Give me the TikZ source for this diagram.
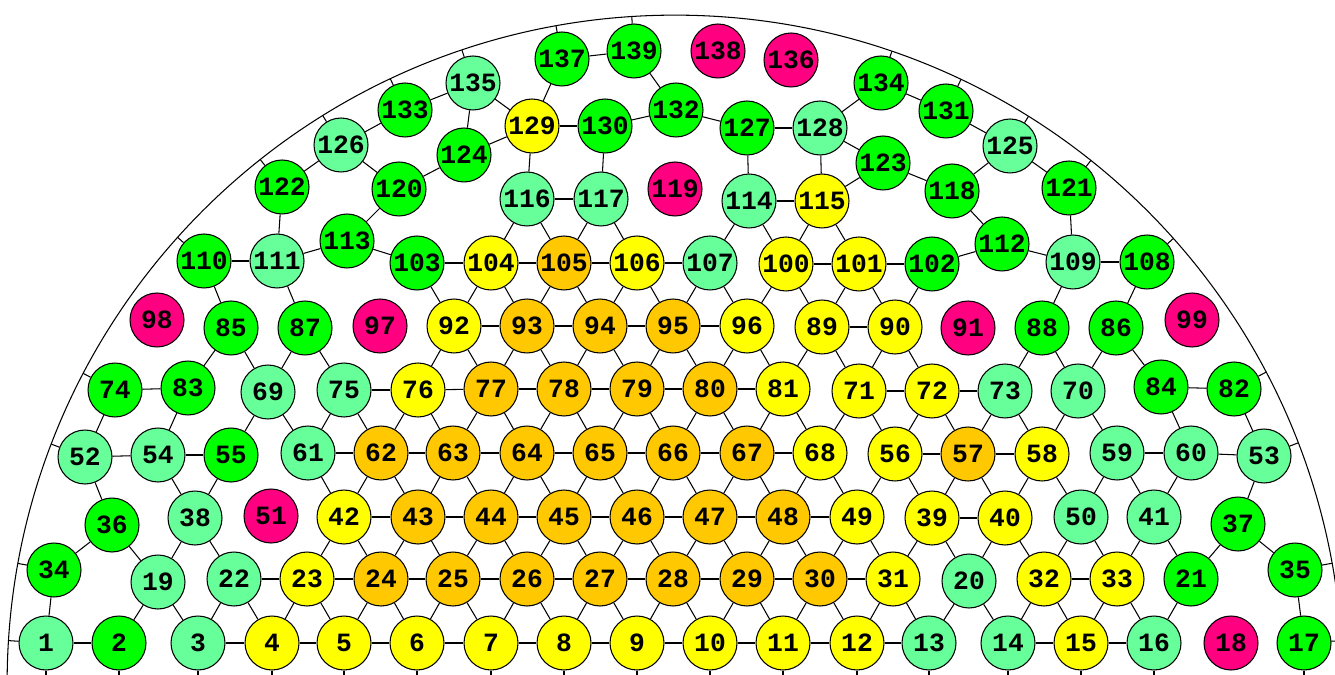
\documentclass[tikz,border=0pt]{standalone}
\usepackage{fontspec}
\newfontfamily\cellfont{Liberation Mono}
\usetikzlibrary{calc}
\definecolor{mintc}{RGB}{102,255,153}
\definecolor{greenc}{RGB}{0,255,0}
\definecolor{pinkc}{RGB}{255,0,128}
\definecolor{yellowc}{RGB}{255,255,0}
\definecolor{orangec}{RGB}{255,200,0}
\tikzset{
  every cell/.style={circle,draw,minimum size=1.08cm,inner sep=0pt,
    font=\cellfont\bfseries\fontsize{15}{15}\selectfont},
  mintcell/.style={every cell,fill=mintc},
  greencell/.style={every cell,fill=greenc},
  pinkcell/.style={every cell,fill=pinkc},
  yellowcell/.style={every cell,fill=yellowc},
  orangecell/.style={every cell,fill=orangec},
}

\begin{document}
\begin{tikzpicture}[x=0.02cm,y=-0.02cm,line width=0.6pt]
  \clip (0,0) rectangle (1335,675);
  \coordinate (ctr) at (675,683);
  \draw (ctr) circle[radius=13.36cm];
  % bottom row
  \node[mintcell]   (n1)   at (46,643)   {1};
  \node[greencell]  (n2)   at (119,643)  {2};
  \node[mintcell]   (n3)   at (198,643)  {3};
  \node[yellowcell] (n4)   at (272,643)  {4};
  \node[yellowcell] (n5)   at (344,643)  {5};
  \node[yellowcell] (n6)   at (417,643)  {6};
  \node[yellowcell] (n7)   at (491,643)  {7};
  \node[yellowcell] (n8)   at (564,643)  {8};
  \node[yellowcell] (n9)   at (637,643)  {9};
  \node[yellowcell] (n10)  at (710,643)  {10};
  \node[yellowcell] (n11)  at (783,643)  {11};
  \node[yellowcell] (n12)  at (857,643)  {12};
  \node[mintcell]   (n13)  at (929,643)  {13};
  \node[mintcell]   (n14)  at (1008,643) {14};
  \node[yellowcell] (n15)  at (1081,643) {15};
  \node[mintcell]   (n16)  at (1154,643) {16};
  \node[greencell]  (n17)  at (1304,643) {17};
  \node[pinkcell]   (n18)  at (1231,643) {18};
  \node[mintcell]   (n19)  at (158,582)  {19};
  \node[mintcell]   (n20)  at (969,581)  {20};
  \node[greencell]  (n21)  at (1191,579) {21};
  \node[mintcell]   (n22)  at (234,579)  {22};
  \node[yellowcell] (n23)  at (307,579)  {23};
  \node[orangecell] (n24)  at (381,579)  {24};
  \node[orangecell] (n25)  at (453,579)  {25};
  \node[orangecell] (n26)  at (527,579)  {26};
  \node[orangecell] (n27)  at (600,579)  {27};
  \node[orangecell] (n28)  at (673,579)  {28};
  \node[orangecell] (n29)  at (747,579)  {29};
  \node[orangecell] (n30)  at (820,579)  {30};
  \node[yellowcell] (n31)  at (893,579)  {31};
  \node[yellowcell] (n32)  at (1044,579) {32};
  \node[yellowcell] (n33)  at (1117,579) {33};
  \node[greencell]  (n34)  at (54,570)   {34};
  \node[greencell]  (n35)  at (1295,570) {35};
  \node[greencell]  (n36)  at (112,525)  {36};
  \node[greencell]  (n37)  at (1238,524) {37};
  \node[mintcell]   (n38)  at (195,518)  {38};
  \node[yellowcell] (n39)  at (932,518)  {39};
  \node[yellowcell] (n40)  at (1005,518) {40};
  \node[mintcell]   (n41)  at (1154,517) {41};
  \node[yellowcell] (n42)  at (344,517)  {42};
  \node[orangecell] (n43)  at (418,517)  {43};
  \node[orangecell] (n44)  at (491,517)  {44};
  \node[orangecell] (n45)  at (564,517)  {45};
  \node[orangecell] (n46)  at (637,517)  {46};
  \node[orangecell] (n47)  at (710,517)  {47};
  \node[orangecell] (n48)  at (783,517)  {48};
  \node[yellowcell] (n49)  at (857,517)  {49};
  \node[mintcell]   (n50)  at (1081,517) {50};
  \node[pinkcell]   (n51)  at (271,516)  {51};
  \node[mintcell]   (n52)  at (85,457)   {52};
  \node[mintcell]   (n53)  at (1264,456) {53};
  \node[mintcell]   (n54)  at (158,455)  {54};
  \node[greencell]  (n55)  at (231,455)  {55};
  \node[yellowcell] (n56)  at (895,454)  {56};
  \node[orangecell] (n57)  at (968,454)  {57};
  \node[yellowcell] (n58)  at (1042,454) {58};
  \node[mintcell]   (n59)  at (1117,453) {59};
  \node[mintcell]   (n60)  at (1191,453) {60};
  \node[mintcell]   (n61)  at (308,453)  {61};
  \node[orangecell] (n62)  at (381,453)  {62};
  \node[orangecell] (n63)  at (453,453)  {63};
  \node[orangecell] (n64)  at (527,453)  {64};
  \node[orangecell] (n65)  at (600,453)  {65};
  \node[orangecell] (n66)  at (673,453)  {66};
  \node[orangecell] (n67)  at (747,453)  {67};
  \node[yellowcell] (n68)  at (820,453)  {68};
  \node[mintcell]   (n69)  at (268,392)  {69};
  \node[mintcell]   (n70)  at (1078,391) {70};
  \node[yellowcell] (n71)  at (859,391)  {71};
  \node[yellowcell] (n72)  at (932,391)  {72};
  \node[mintcell]   (n73)  at (1005,391) {73};
  \node[greencell]  (n74)  at (115,390)  {74};
  \node[mintcell]   (n75)  at (344,390)  {75};
  \node[yellowcell] (n76)  at (418,390)  {76};
  \node[orangecell] (n77)  at (491,389)  {77};
  \node[orangecell] (n78)  at (564,389)  {78};
  \node[orangecell] (n79)  at (637,389)  {79};
  \node[orangecell] (n80)  at (710,389)  {80};
  \node[yellowcell] (n81)  at (783,389)  {81};
  \node[greencell]  (n82)  at (1234,389) {82};
  \node[greencell]  (n83)  at (188,388)  {83};
  \node[greencell]  (n84)  at (1161,387) {84};
  \node[greencell]  (n85)  at (231,328)  {85};
  \node[greencell]  (n86)  at (1116,328) {86};
  \node[greencell]  (n87)  at (305,328)  {87};
  \node[greencell]  (n88)  at (1042,328) {88};
  \node[yellowcell] (n89)  at (822,327)  {89};
  \node[yellowcell] (n90)  at (895,327)  {90};
  \node[pinkcell]   (n91)  at (968,328)  {91};
  \node[yellowcell] (n92)  at (454,326)  {92};
  \node[orangecell] (n93)  at (527,326)  {93};
  \node[orangecell] (n94)  at (600,326)  {94};
  \node[orangecell] (n95)  at (673,326)  {95};
  \node[yellowcell] (n96)  at (747,326)  {96};
  \node[pinkcell]   (n97)  at (380,326)  {97};
  \node[pinkcell]   (n98)  at (157,320)  {98};
  \node[pinkcell]   (n99)  at (1192,320) {99};
  \node[yellowcell] (n100) at (786,264)  {100};
  \node[yellowcell] (n101) at (859,264)  {101};
  \node[greencell]  (n102) at (932,264)  {102};
  \node[greencell]  (n103) at (417,263)  {103};
  \node[yellowcell] (n104) at (491,263)  {104};
  \node[orangecell] (n105) at (564,263)  {105};
  \node[yellowcell] (n106) at (637,263)  {106};
  \node[mintcell]   (n107) at (710,263)  {107};
  \node[greencell]  (n108) at (1147,262) {108};
  \node[mintcell]   (n109) at (1073,262) {109};
  \node[greencell]  (n110) at (204,261)  {110};
  \node[mintcell]   (n111) at (277,261)  {111};
  \node[greencell]  (n112) at (1002,244) {112};
  \node[greencell]  (n113) at (347,241)  {113};
  \node[mintcell]   (n114) at (749,201)  {114};
  \node[yellowcell] (n115) at (822,201)  {115};
  \node[mintcell]   (n116) at (527,199)  {116};
  \node[mintcell]   (n117) at (601,199)  {117};
  \node[greencell]  (n118) at (952,191)  {118};
  \node[pinkcell]   (n119) at (675,189)  {119};
  \node[greencell]  (n120) at (399,189)  {120};
  \node[greencell]  (n121) at (1069,188) {121};
  \node[greencell]  (n122) at (282,187)  {122};
  \node[greencell]  (n123) at (883,163)  {123};
  \node[greencell]  (n124) at (464,155)  {124};
  \node[mintcell]   (n125) at (1010,146) {125};
  \node[mintcell]   (n126) at (341,145)  {126};
  \node[greencell]  (n127) at (747,128)  {127};
  \node[mintcell]   (n128) at (820,128)  {128};
  \node[yellowcell] (n129) at (532,126)  {129};
  \node[greencell]  (n130) at (605,126)  {130};
  \node[greencell]  (n131) at (946,111)  {131};
  \node[greencell]  (n132) at (676,110)  {132};
  \node[greencell]  (n133) at (405,110)  {133};
  \node[greencell]  (n134) at (881,83)   {134};
  \node[mintcell]   (n135) at (473,83)   {135};
  \node[pinkcell]   (n136) at (791,60)   {136};
  \node[greencell]  (n137) at (562,59)   {137};
  \node[pinkcell]   (n138) at (718,51)   {138};
  \node[greencell]  (n139) at (634,51)   {139};
  % links
  \path (n1) edge (n2) (n3) edge (n4) (n4) edge (n5) (n5) edge (n6) (n6) edge (n7)
    (n7) edge (n8) (n8) edge (n9) (n9) edge (n10) (n10) edge (n11) (n11) edge (n12)
    (n12) edge (n13) (n14) edge (n15) (n15) edge (n16)
    (n34) edge (n1) (n19) edge (n2) (n19) edge (n3) (n22) edge (n3) (n22) edge (n4)
    (n23) edge (n4) (n23) edge (n5) (n24) edge (n5) (n24) edge (n6) (n25) edge (n6)
    (n25) edge (n7) (n26) edge (n7) (n26) edge (n8) (n27) edge (n8) (n27) edge (n9)
    (n28) edge (n9) (n28) edge (n10) (n29) edge (n10) (n29) edge (n11) (n30) edge (n11)
    (n30) edge (n12) (n31) edge (n12) (n31) edge (n13) (n20) edge (n13) (n20) edge (n14)
    (n32) edge (n14) (n32) edge (n15) (n33) edge (n15) (n33) edge (n16) (n21) edge (n16)
    (n35) edge (n17);
  \path (n22) edge (n23) (n23) edge (n24) (n24) edge (n25) (n25) edge (n26) (n26) edge (n27)
    (n27) edge (n28) (n28) edge (n29) (n29) edge (n30) (n30) edge (n31) (n32) edge (n33)
    (n34) edge (n36) (n36) edge (n19) (n38) edge (n19) (n38) edge (n22) (n42) edge (n23)
    (n42) edge (n24) (n43) edge (n24) (n43) edge (n25) (n44) edge (n25) (n44) edge (n26)
    (n45) edge (n26) (n45) edge (n27) (n46) edge (n27) (n46) edge (n28) (n47) edge (n28)
    (n47) edge (n29) (n48) edge (n29) (n48) edge (n30) (n49) edge (n30) (n49) edge (n31)
    (n39) edge (n31) (n39) edge (n20) (n40) edge (n20) (n40) edge (n32) (n50) edge (n32)
    (n50) edge (n33) (n41) edge (n33) (n41) edge (n21) (n37) edge (n21) (n37) edge (n35);
  \path (n42) edge (n43) (n43) edge (n44) (n44) edge (n45) (n45) edge (n46) (n46) edge (n47)
    (n47) edge (n48) (n48) edge (n49) (n39) edge (n40)
    (n52) edge (n36) (n54) edge (n38) (n55) edge (n38) (n61) edge (n42) (n62) edge (n42)
    (n62) edge (n43) (n63) edge (n43) (n63) edge (n44) (n64) edge (n44) (n64) edge (n45)
    (n65) edge (n45) (n65) edge (n46) (n66) edge (n46) (n66) edge (n47) (n67) edge (n47)
    (n67) edge (n48) (n68) edge (n48) (n68) edge (n49) (n56) edge (n49) (n56) edge (n39)
    (n57) edge (n39) (n57) edge (n40) (n58) edge (n40) (n58) edge (n50) (n59) edge (n50)
    (n59) edge (n41) (n60) edge (n41) (n53) edge (n37);
  \path (n52) edge (n54) (n54) edge (n55) (n61) edge (n62) (n62) edge (n63) (n63) edge (n64)
    (n64) edge (n65) (n65) edge (n66) (n66) edge (n67) (n67) edge (n68) (n56) edge (n57)
    (n57) edge (n58) (n59) edge (n60) (n60) edge (n53)
    (n74) edge (n52) (n83) edge (n54) (n69) edge (n55) (n69) edge (n61) (n75) edge (n61)
    (n75) edge (n62) (n76) edge (n62) (n76) edge (n63) (n77) edge (n63) (n77) edge (n64)
    (n78) edge (n64) (n78) edge (n65) (n79) edge (n65) (n79) edge (n66) (n80) edge (n66)
    (n80) edge (n67) (n81) edge (n67) (n81) edge (n68) (n71) edge (n68) (n71) edge (n56)
    (n72) edge (n56) (n72) edge (n57) (n73) edge (n57) (n73) edge (n58) (n70) edge (n58)
    (n70) edge (n59) (n84) edge (n60) (n82) edge (n53);
  \path (n74) edge (n83) (n75) edge (n76) (n76) edge (n77) (n77) edge (n78) (n78) edge (n79)
    (n79) edge (n80) (n80) edge (n81) (n71) edge (n72) (n72) edge (n73) (n84) edge (n82)
    (n85) edge (n83) (n85) edge (n69) (n87) edge (n69) (n87) edge (n75) (n92) edge (n76)
    (n92) edge (n77) (n93) edge (n77) (n93) edge (n78) (n94) edge (n78) (n94) edge (n79)
    (n95) edge (n79) (n95) edge (n80) (n96) edge (n80) (n96) edge (n81) (n89) edge (n81)
    (n89) edge (n71) (n90) edge (n71) (n90) edge (n72) (n88) edge (n73) (n88) edge (n70)
    (n86) edge (n70) (n86) edge (n84);
  \path (n92) edge (n93) (n93) edge (n94) (n94) edge (n95) (n95) edge (n96) (n89) edge (n90)
    (n110) edge (n85) (n111) edge (n87) (n103) edge (n92) (n104) edge (n92) (n104) edge (n93)
    (n105) edge (n93) (n105) edge (n94) (n106) edge (n94) (n106) edge (n95) (n107) edge (n95)
    (n107) edge (n96) (n100) edge (n96) (n100) edge (n89) (n101) edge (n89) (n101) edge (n90)
    (n102) edge (n90) (n109) edge (n88) (n108) edge (n86)
    (n110) edge (n111) (n111) edge (n113) (n113) edge (n103) (n103) edge (n104)
    (n104) edge (n105) (n105) edge (n106) (n106) edge (n107) (n100) edge (n101)
    (n101) edge (n102) (n102) edge (n112) (n112) edge (n109) (n109) edge (n108);
  \path (n122) edge (n111) (n120) edge (n113) (n116) edge (n104) (n116) edge (n105)
    (n117) edge (n105) (n117) edge (n106) (n114) edge (n107) (n114) edge (n100)
    (n115) edge (n100) (n115) edge (n101) (n118) edge (n112) (n121) edge (n109)
    (n116) edge (n117) (n114) edge (n115)
    (n126) edge (n122) (n126) edge (n120) (n124) edge (n120) (n129) edge (n124)
    (n129) edge (n116) (n129) edge (n130) (n130) edge (n117) (n130) edge (n132)
    (n132) edge (n127) (n127) edge (n128) (n127) edge (n114) (n128) edge (n115)
    (n123) edge (n115) (n128) edge (n123) (n123) edge (n118) (n125) edge (n118)
    (n125) edge (n121) (n135) edge (n124) (n135) edge (n129) (n135) edge (n133)
    (n133) edge (n126) (n137) edge (n129) (n137) edge (n139) (n139) edge (n132)
    (n134) edge (n128) (n134) edge (n131) (n131) edge (n125);
  % links to the rim and to the base
  \foreach \n in {1,34,52,74,110,122,126,133,135,137,139,134,131,125,121,108,82,53,35,17}
    \draw (n\n) -- ($(ctr)!13.36cm!(n\n)$);
  \foreach \n in {1,2,3,4,5,6,7,8,9,10,11,12,13,14,15,16,17}
    \draw (n\n) -- (n\n |- ctr);
\end{tikzpicture}
\end{document}
